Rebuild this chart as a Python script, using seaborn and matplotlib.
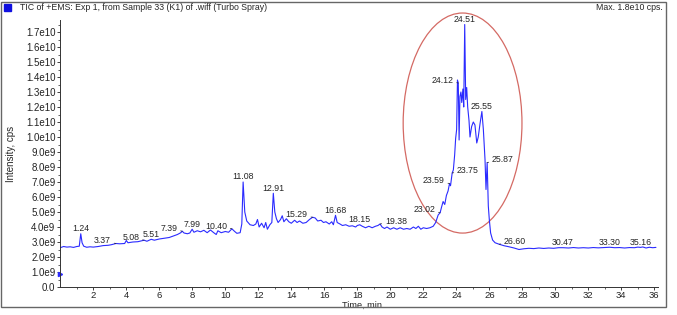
import matplotlib
matplotlib.use("Agg")
import numpy as np
import matplotlib.pyplot as plt
import seaborn as sns
from matplotlib.patches import Ellipse, Rectangle
from matplotlib.ticker import FixedLocator, FuncFormatter

# ================= DATA =================
# TIC trace (time in min, intensity in units of 1e9 cps)
time_min = [
    0.0, 0.2, 0.4, 0.6, 0.8, 1.0, 1.15, 1.24, 1.32, 1.42, 1.6, 1.8, 2.0, 2.3, 2.6, 2.9,
    3.1, 3.37, 3.6, 3.9, 4.0, 4.1, 4.4, 4.7, 5.08, 5.25, 5.51, 5.7, 6.0, 6.3, 6.6, 6.9,
    7.1, 7.3, 7.39, 7.5, 7.7, 7.85, 7.99, 8.1, 8.3, 8.5, 8.7, 8.9, 9.1, 9.3, 9.45, 9.55,
    9.75, 10.0, 10.2, 10.4, 10.55, 10.7, 10.9, 11.0, 11.08, 11.18, 11.3, 11.5, 11.7, 11.85,
    11.95, 12.05, 12.2, 12.35, 12.45, 12.55, 12.7, 12.82, 12.91, 13.0, 13.1, 13.2, 13.35,
    13.45, 13.55, 13.7, 13.85, 14.0, 14.2, 14.35, 14.5, 14.7, 14.9, 15.1, 15.29, 15.45,
    15.6, 15.8, 15.95, 16.1, 16.3, 16.45, 16.55, 16.68, 16.78, 16.95, 17.1, 17.3, 17.5,
    17.7, 17.9, 18.0, 18.15, 18.3, 18.5, 18.7, 18.9, 19.1, 19.25, 19.38, 19.5, 19.65,
    19.8, 20.0, 20.2, 20.4, 20.6, 20.8, 21.0, 21.2, 21.4, 21.55, 21.7, 21.85, 22.0, 22.2,
    22.4, 22.6, 22.75, 22.9, 23.02, 23.1, 23.2, 23.3, 23.4, 23.5, 23.59, 23.65, 23.75,
    23.82, 23.9, 23.96, 24.02, 24.07, 24.12, 24.17, 24.22, 24.28, 24.33, 24.4, 24.45,
    24.51, 24.57, 24.63, 24.69, 24.77, 24.83, 24.93, 25.03, 25.13, 25.24, 25.33, 25.44,
    25.55, 25.64, 25.74, 25.8, 25.87, 25.94, 26.0, 26.08, 26.2, 26.35, 26.6, 26.9, 27.2,
    27.5, 27.8, 28.1, 28.4, 28.7, 29.0, 29.3, 29.6, 29.9, 30.2, 30.47, 30.8, 31.1, 31.4,
    31.7, 32.0, 32.3, 32.6, 32.9, 33.3, 33.6, 33.9, 34.2, 34.5, 34.8, 35.0, 35.16, 35.3,
    35.5, 35.7, 35.9, 36.1,
]
intensity_e9 = [
    2.62, 2.7, 2.66, 2.68, 2.64, 2.7, 2.72, 3.55, 2.95, 2.72, 2.65, 2.68, 2.66, 2.7, 2.76, 2.78,
    2.82, 2.9, 2.88, 2.9, 3.1, 2.95, 3.0, 3.02, 3.12, 3.05, 3.18, 3.12, 3.2, 3.25, 3.3, 3.42,
    3.5, 3.62, 3.72, 3.6, 3.55, 3.6, 3.85, 3.65, 3.75, 3.68, 3.78, 3.62, 3.8, 3.62, 3.5, 3.75,
    3.62, 3.7, 3.65, 3.88, 3.72, 3.58, 3.62, 4.2, 7.0, 5.0, 4.4, 4.15, 4.1, 4.2,
    4.5, 4.0, 4.25, 3.95, 4.3, 3.85, 4.15, 4.3, 6.25, 5.0, 4.55, 4.3, 4.5,
    4.75, 4.35, 4.55, 4.35, 4.25, 4.45, 4.3, 4.4, 4.25, 4.3, 4.5, 4.65, 4.6,
    4.4, 4.45, 4.3, 4.35, 4.2, 4.35, 4.15, 4.78, 4.3, 4.2, 4.1, 4.15, 4.05,
    4.08, 4.0, 4.1, 4.15, 4.05, 3.95, 4.05, 3.95, 4.05, 4.1, 4.2, 4.0, 3.9,
    4.0, 3.85, 3.95, 3.85, 3.95, 3.85, 3.9, 3.85, 4.0, 3.9, 4.05, 3.85, 3.95, 3.9,
    3.95, 4.05, 4.3, 4.8, 4.95, 5.3, 5.7, 5.5, 6.1, 6.4, 6.9, 6.75, 7.6,
    7.8, 8.8, 9.9, 10.5, 13.8, 13.6, 9.8, 12.7, 13.0, 12.3, 13.2, 12.0,
    17.5, 12.5, 13.3, 12.0, 11.1, 10.0, 10.7, 11.0, 10.8, 9.6, 10.0, 10.9,
    11.7, 10.5, 8.5, 6.5, 8.3, 5.4, 4.5, 3.6, 3.13, 2.95, 2.85, 2.75, 2.68,
    2.6, 2.5, 2.55, 2.58, 2.56, 2.6, 2.57, 2.6, 2.58, 2.62, 2.62, 2.6, 2.63, 2.6,
    2.62, 2.6, 2.63, 2.61, 2.63, 2.65, 2.62, 2.63, 2.6, 2.63, 2.62, 2.66, 2.64, 2.67,
    2.6, 2.65, 2.62, 2.64,
]

# peak labels: retention time and where the text sits ('c' above, 'l' left, 'r' right)
peak_times = [1.24, 3.37, 5.08, 5.51, 7.39, 7.99, 10.40, 11.08, 12.91, 15.29, 16.68,
              18.15, 19.38, 23.02, 23.59, 23.75, 24.12, 24.51, 25.55, 25.87, 26.60,
              30.47, 33.30, 35.16]
peak_sides = ['c', 'l', 'l', 'c', 'l', 'c', 'l', 'c', 'c', 'l', 'c',
              'c', 'r', 'l', 'l', 'r', 'l', 'c', 'c', 'r', 'r',
              'c', 'c', 'c']

y_ticks_e9 = list(range(0, 18))
x_ticks = list(range(2, 37, 2))

# ================= STYLE =================
LINE_BLUE = '#2b2bff'
ELLIPSE_RED = '#d46a64'

sns.set_style('ticks')
plt.rcParams['font.family'] = ['Liberation Sans', 'DejaVu Sans']

fig = plt.figure(figsize=(6.77, 3.15), dpi=100)
ax = fig.add_axes([60.3 / 677, 28 / 315, 36.2 * 16.5 / 677, 267 / 315])

t = np.array(time_min)
y = np.array(intensity_e9) * 1e9
sns.lineplot(x=t, y=y, ax=ax, color=LINE_BLUE, lw=0.8, sort=False, estimator=None)

ax.set_xlim(0, 36.2)
ax.set_ylim(0, 1.78e10)

# --- ticks ---
ax.yaxis.set_major_locator(FixedLocator([v * 1e9 for v in y_ticks_e9]))
ax.yaxis.set_minor_locator(FixedLocator([(v + 0.5) * 1e9 for v in y_ticks_e9]))


def fmt_y(v, pos):
    if v == 0:
        return '0.0'
    e = int(np.floor(np.log10(v) + 1e-9))
    return f'{v / 10**e:.1f}e{e}'


ax.yaxis.set_major_formatter(FuncFormatter(fmt_y))
ax.xaxis.set_major_locator(FixedLocator(x_ticks))
ax.xaxis.set_minor_locator(FixedLocator([v - 1 for v in x_ticks]))
ax.tick_params(axis='both', which='major', direction='out', length=2.5, width=0.6,
               labelsize=7, pad=1, colors='#222222')
ax.tick_params(axis='x', which='major', pad=0.3, labelsize=6.8)
ax.tick_params(axis='both', which='minor', direction='out', length=1.3, width=0.5,
               colors='#222222')

sns.despine(ax=ax)
for s in ('left', 'bottom'):
    ax.spines[s].set_linewidth(0.7)
    ax.spines[s].set_color('#333333')

ax.set_xlabel('Time, min', fontsize=6.6)
ax.set_ylabel('Intensity, cps', fontsize=7)
ax.xaxis.set_label_coords(0.505, -0.05)
ax.yaxis.set_label_coords(-0.074, 0.5)

# --- peak annotations ---
for pt, side in zip(peak_times, peak_sides):
    py = float(np.interp(pt, t, y))
    if side == 'c':
        ax.annotate(f'{pt:.2f}', (pt, py), xytext=(0, 0.5), textcoords='offset points',
                    ha='center', va='bottom', fontsize=6.3)
    else:
        dx = -3.5 if side == 'l' else 3.5
        ax.annotate(f'{pt:.2f}', (pt, py), xytext=(dx, 2), textcoords='offset points',
                    ha='right' if side == 'l' else 'left', va='center', fontsize=6.3,
                    arrowprops=dict(arrowstyle='-', lw=0.5, color='#222222',
                                    shrinkA=0, shrinkB=0))

# red ellipse around the main cluster
ax.add_patch(Ellipse((24.38, 10.93e9), 7.2, 14.67e9, fill=False,
                     edgecolor=ELLIPSE_RED, lw=0.9, clip_on=False))

# little blue marker on the y axis
ax.plot([0], [0.9e9], marker='>', color=LINE_BLUE, markersize=3, clip_on=False)

# --- header and frame ---
fig.add_artist(Rectangle((4 / 677, 1 - 11 / 315), 7 / 677, 7 / 315,
                         transform=fig.transFigure, color='#1010e0'))
fig.text(20 / 677, 1 - 7.5 / 315, 'TIC of +EMS: Exp 1, from Sample 33 (K1) of .wiff (Turbo Spray)',
         fontsize=6.3, va='center', ha='left')
fig.text(663 / 677, 1 - 7.5 / 315, 'Max. 1.8e10 cps.', fontsize=6.3, va='center', ha='right')
fig.add_artist(Rectangle((1 / 677, 8 / 315), 665 / 677, 305 / 315, transform=fig.transFigure,
                         fill=False, edgecolor='#666666', lw=1.0))

fig.savefig('out.png', dpi=100)
